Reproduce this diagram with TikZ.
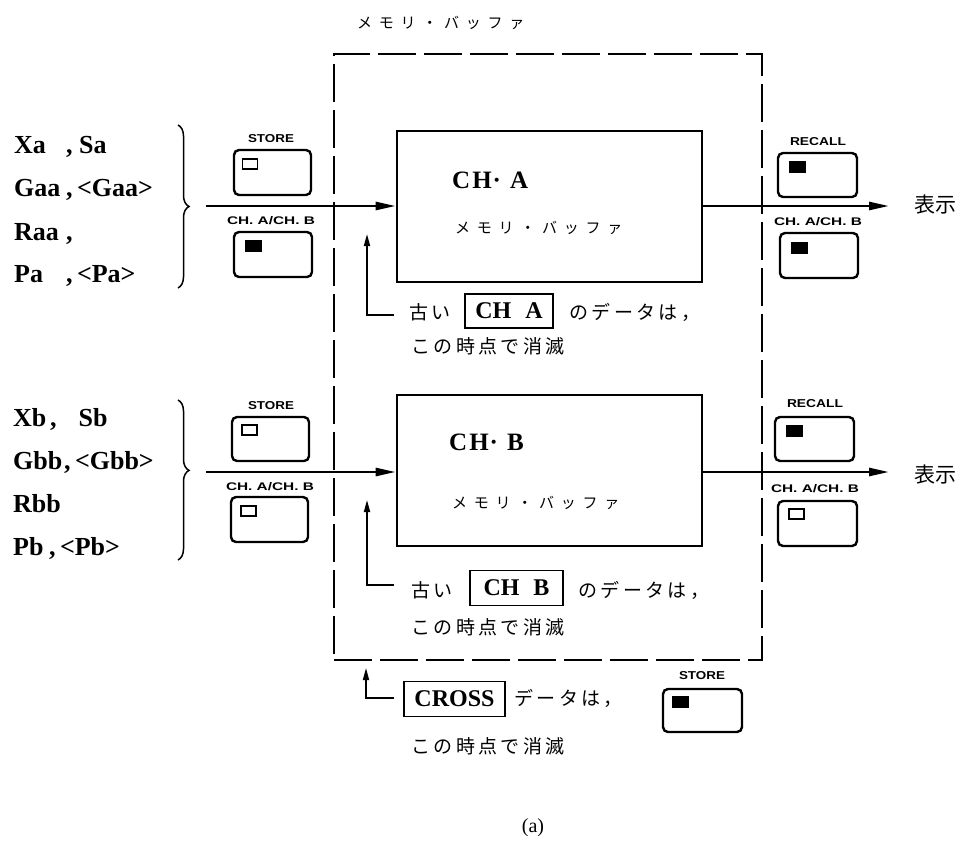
\documentclass[tikz,border=0pt]{standalone}
\usepackage{fontspec}
\setmainfont{Liberation Serif}
\newfontfamily\jpsp[LetterSpace=45]{Noto Sans CJK JP}
\newfontfamily\jpan[LetterSpace=18]{Noto Sans CJK JP}
\newfontfamily\jp{Noto Sans CJK JP}
\newfontfamily\btnfont{Liberation Sans}
\usetikzlibrary{arrows.meta,decorations.pathreplacing}
\newcommand\btnlabel[2]{\resizebox{#1}{8pt}{\btnfont\bfseries #2}}
\begin{document}
\begin{tikzpicture}[x=1pt,y=-1pt,
  txt/.style={inner sep=0pt},
  big/.style={txt,font=\fontsize{26}{30}\selectfont\bfseries},
  chname/.style={txt,font=\fontsize{25}{30}\selectfont\bfseries},
  jpbox/.style={txt,font=\jpsp\fontsize{15}{18}\selectfont},
  jpnote/.style={txt,font=\jpan\fontsize{19}{22}\selectfont},
  membox/.style={draw,line width=2.6pt,minimum width=305pt,minimum height=151pt,inner sep=0pt},
  dashbox/.style={draw,line width=2pt,dash pattern=on 38pt off 8pt,inner sep=0pt},
  btnbox/.style={draw,line width=2.4pt,rounded corners=5pt,minimum width=78pt,minimum height=45pt,inner sep=0pt},
  lampon/.style={fill=black,minimum width=17pt,minimum height=12pt,inner sep=0pt},
  lampoff/.style={draw,line width=1.5pt,minimum width=15pt,minimum height=10pt,inner sep=0pt},
  tagbox/.style={draw,line width=1.3pt,inner sep=0pt,font=\fontsize{24}{28}\selectfont\bfseries},
  flow/.style={line width=2.6pt,-{Triangle[length=20pt,width=8pt]}},
  notearrow/.style={line width=1.7pt,{Triangle[length=12pt,width=6pt]}-},
  bracestyle/.style={line width=1.5pt,decorate,decoration={brace,amplitude=11pt}}
]
\useasboundingbox (0,0) rectangle (965,843);

% memory buffer (dashed)
\node[dashbox,minimum width=428pt,minimum height=606pt] (buf) at (548,357) {};
\node[jpbox,anchor=west] (title) at (357,23) {メモリ・バッファ};

% channel boxes
\node[membox] (chA) at (549.5,206.5) {};
\node[membox] (chB) at (549.5,470.5) {};
\node[chname,anchor=west] (chAname) at (452,180) {C\kern2pt H\kern1pt·\kern9pt A};
\node[jpbox,anchor=west] (chAbuf) at (455,228) {メモリ・バッファ};
\node[chname,anchor=west] (chBname) at (449,442) {C\kern2pt H\kern1pt·\kern9pt B};
\node[jpbox,anchor=west] (chBbuf) at (452,503) {メモリ・バッファ};

% input variables A
\node[big,anchor=base west] (xa) at (14,153) {\makebox[52pt][l]{Xa}, Sa};
\node[big,anchor=base west] (ga) at (14,196) {\makebox[52pt][l]{Gaa},\,<Gaa>};
\node[big,anchor=base west] (ra) at (14,240) {\makebox[52pt][l]{Raa},};
\node[big,anchor=base west] (pa) at (14,282) {\makebox[52pt][l]{Pa},\,<Pa>};
\draw[bracestyle,decoration={aspect=0.5}] (178,125) -- (178,288);
% input variables B
\node[big,anchor=base west] (xb) at (13,426) {\makebox[37pt][l]{Xb},\hspace{22pt}Sb};
\node[big,anchor=base west] (gb) at (13,469) {\makebox[51pt][l]{Gbb},\,<Gbb>};
\node[big,anchor=base west] (rb) at (13,512) {Rbb};
\node[big,anchor=base west] (pb) at (13,555) {\makebox[36pt][l]{Pb},\,<Pb>};
\draw[bracestyle,decoration={aspect=0.44}] (178,400) -- (178,560);

% flow arrows
\coordinate (inA) at (206,206);
\coordinate (outA) at (889,206);
\coordinate (inB) at (206,472);
\coordinate (outB) at (889,472);
\draw[flow] (inA) -- (inA -| chA.west);
\draw[flow] (chA.east |- outA) -- (outA);
\draw[flow] (inB) -- (inB -| chB.west);
\draw[flow] (chB.east |- outB) -- (outB);
\node[txt,anchor=west,font=\jp\fontsize{21}{24}\selectfont] (dispA) at (914,205) {表示};
\node[txt,anchor=west,font=\jp\fontsize{21}{24}\selectfont] (dispB) at (914,475) {表示};

% buttons, channel A
\node[txt] (lsa) at (271,139) {\btnlabel{46pt}{STORE}};
\node[btnbox,minimum width=77pt] (bsa) at (272.5,172.5) {};
\node[lampoff] (lpsa) at (250,164) {};
\node[txt] (lca) at (271,221) {\btnlabel{88pt}{CH. A/CH. B}};
\node[btnbox] (bca) at (273,254.5) {};
\node[lampon] (lpca) at (253.5,246) {};
\node[txt] (lra) at (818,142) {\btnlabel{56pt}{RECALL}};
\node[btnbox,minimum width=79pt,minimum height=44pt] (bra) at (817.5,175) {};
\node[lampon] (lpra) at (797.5,167) {};
\node[txt] (lcra) at (818,222) {\btnlabel{88pt}{CH. A/CH. B}};
\node[btnbox] (bcra) at (819,255.5) {};
\node[lampon] (lpcra) at (799.5,247.5) {};

% buttons, channel B
\node[txt] (lsb) at (271,406) {\btnlabel{46pt}{STORE}};
\node[btnbox,minimum width=77pt,minimum height=44pt] (bsb) at (270.5,439) {};
\node[lampoff] (lpsb) at (249.5,430) {};
\node[txt] (lcb) at (270,487) {\btnlabel{88pt}{CH. A/CH. B}};
\node[btnbox,minimum width=77pt] (bcb) at (269.5,519.5) {};
\node[lampoff] (lpcb) at (248.5,511) {};
\node[txt] (lrb) at (815,404) {\btnlabel{56pt}{RECALL}};
\node[btnbox,minimum width=79pt,minimum height=44pt] (brb) at (814.5,439) {};
\node[lampon] (lprb) at (794.5,430.5) {};
\node[txt] (lcrb) at (815,489) {\btnlabel{88pt}{CH. A/CH. B}};
\node[btnbox,minimum width=79pt] (bcrb) at (817.5,523.5) {};
\node[lampoff] (lpcrb) at (796.5,514) {};

% bottom STORE button
\node[txt] (lsc) at (702,676) {\btnlabel{46pt}{STORE}};
\node[btnbox,minimum width=79pt,minimum height=43pt] (bsc) at (702.5,710.5) {};
\node[lampon] (lpsc) at (680.5,701.5) {};

% note A
\coordinate (tipA) at (367,234);
\coordinate (endA) at (394,315);
\draw[notearrow] (tipA) |- (endA);
\node[jpnote,anchor=west] (oldA) at (409,312) {古い};
\node[tagbox,minimum width=88pt,minimum height=34pt] (tagA) at (509,311) {CH\kern14pt A};
\node[jpnote,anchor=west] (restA) at (569,312) {のデータは，};
\node[jpnote,anchor=west] (lineA) at (411,346) {この時点で消滅};

% note B
\coordinate (tipB) at (367,500);
\coordinate (endB) at (394,585);
\draw[notearrow] (tipB) |- (endB);
\node[jpnote,anchor=west] (oldB) at (411,590) {古い};
\node[tagbox,minimum width=93pt,minimum height=35pt] (tagB) at (516.5,588) {CH\kern14pt B};
\node[jpnote,anchor=west] (restB) at (578,590) {のデータは，};
\node[jpnote,anchor=west] (lineB) at (411,627) {この時点で消滅};

% note CROSS
\coordinate (tipC) at (366,668);
\coordinate (endC) at (394,698);
\draw[notearrow] (tipC) |- (endC);
\node[tagbox,minimum width=101pt,minimum height=35pt] (tagC) at (454.5,699) {CROSS};
\node[jpnote,anchor=west] (restC) at (514,698) {データは，};
\node[jpnote,anchor=west] (lineC) at (411,746) {この時点で消滅};

\node[txt,font=\fontsize{20}{24}\selectfont] (cap) at (533,828) {(a)};
\end{tikzpicture}
\end{document}
